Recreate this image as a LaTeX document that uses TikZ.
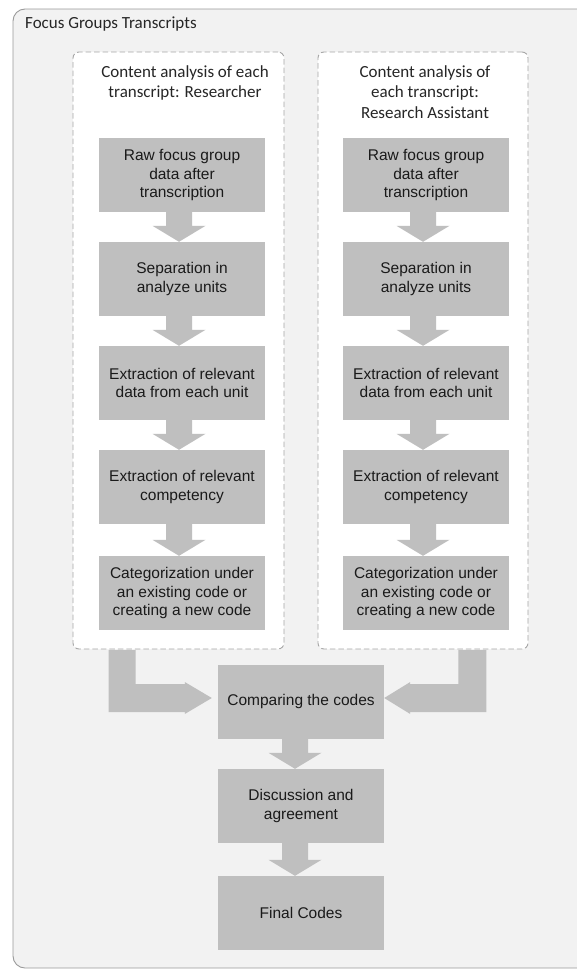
\documentclass[tikz,border=0pt]{standalone}
\usepackage{fontspec}
\setmainfont{Carlito}
\newfontfamily\boxfont{Liberation Sans}
\usetikzlibrary{calc}

\definecolor{panelbg}{HTML}{F2F2F2}
\definecolor{panelline}{HTML}{9A9A9A}
\definecolor{dashline}{HTML}{A6A6A6}
\definecolor{stepfill}{HTML}{BFBFBF}
\definecolor{steptext}{HTML}{1A1A1A}
\definecolor{titletext}{HTML}{262626}

% block arrow pointing down from one box to the next; optional x offset
\newcommand{\flowarrow}[3][0]{%
  \fill[stepfill]
    ($(#2.south)+(#1-13,0)$) --
    ($(#3.north)+(#1-13,-16)$) --
    ($(#3.north)+(#1-26.5,-16)$) --
    ($(#3.north)+(#1,0)$) --
    ($(#3.north)+(#1+26.5,-16)$) --
    ($(#3.north)+(#1+13,-16)$) --
    ($(#2.south)+(#1+13,0)$) -- cycle;}

\begin{document}
\begin{tikzpicture}[x=1pt,y=-1pt,
  panel/.style={draw=panelline, fill=panelbg, line width=0.9pt,
    rounded corners=12pt, minimum width=587pt, minimum height=959pt, inner sep=0pt},
  lane/.style={draw=dashline, dash pattern=on 5.5pt off 3pt, fill=white,
    line width=0.9pt, rounded corners=6pt, minimum width=#1,
    minimum height=597pt, inner sep=0pt},
  lanetitle/.style={align=center, text=titletext, inner sep=0pt,
    font=\fontsize{17}{20.5}\selectfont},
  stepbox/.style={rectangle, fill=stepfill, minimum width=166pt,
    minimum height=74pt, inner sep=0pt, align=center, text=steptext,
    font=\boxfont\fontsize{15.5}{18.8}\selectfont},
]
\useasboundingbox (0,0) rectangle (576,969);

% outer panel
\node[panel] (panel) at (306.5,488.5) {};
\node[anchor=west, text=titletext, inner sep=0pt,
  font=\fontsize{17}{20}\selectfont] (ptitle) at (25,24) {Focus Groups Transcripts};

% two analysis lanes
\node[lane=211pt] (lbox) at (178.5,350.5) {};
\node[lane=210pt] (rbox) at (423,350.5) {};
\node[lanetitle] (ltitle) at (185,83) {Content analysis of each\\transcript: Researcher};
\node[lanetitle] (rtitle) at (425,92) {Content analysis of\\each transcript:\\Research Assistant};

% researcher steps
\node[stepbox] (l1) at (182,175) {Raw focus group\\data after\\transcription};
\node[stepbox] (l2) at (182,279) {Separation in\\analyze units};
\node[stepbox] (l3) at (182,383) {Extraction of relevant\\data from each unit};
\node[stepbox] (l4) at (182,487) {Extraction of relevant\\competency};
\node[stepbox] (l5) at (182,593) {Categorization under\\an existing code or\\creating a new code};

% research assistant steps
\node[stepbox] (r1) at (426,175) {Raw focus group\\data after\\transcription};
\node[stepbox] (r2) at (426,279) {Separation in\\analyze units};
\node[stepbox] (r3) at (426,383) {Extraction of relevant\\data from each unit};
\node[stepbox] (r4) at (426,487) {Extraction of relevant\\competency};
\node[stepbox] (r5) at (426,593) {Categorization under\\an existing code or\\creating a new code};

% shared steps
\node[stepbox] (cmp) at (301,701.5) {Comparing the codes};
\node[stepbox] (disc) at (301,806) {Discussion and\\agreement};
\node[stepbox] (final) at (301,913) {Final Codes};

% arrows inside the lanes
\flowarrow[-3]{l1}{l2}
\flowarrow[-3]{l2}{l3}
\flowarrow[-3]{l3}{l4}
\flowarrow[-3]{l4}{l5}
\flowarrow[-3]{r1}{r2}
\flowarrow[-3]{r2}{r3}
\flowarrow[-3]{r3}{r4}
\flowarrow[-3]{r4}{r5}

% arrows down the shared steps
\flowarrow[-6]{cmp}{disc}
\flowarrow[-6]{disc}{final}

% bent arrows from the lanes into the comparison
\coordinate (lstem) at ($(lbox.south west)+(36,0.6)$);
\coordinate (ltip) at ($(cmp.west)+(-6,-3.5)$);
\fill[stepfill] (lstem) -- ++(27,0) -- ($(lstem |- ltip)+(27,-14)$)
  -- ($(ltip)+(-27,-14)$) -- ($(ltip)+(-27,-16)$) -- (ltip)
  -- ($(ltip)+(-27,16)$) -- ($(ltip)+(-27,14)$)
  -- ($(lstem |- ltip)+(0,14)$) -- cycle;

\coordinate (rstem) at ($(rbox.south east)+(-42,0.6)$);
\coordinate (rtip) at ($(cmp.east)+(0,-3.5)$);
\fill[stepfill] (rstem) -- ++(-28,0) -- ($(rstem |- rtip)+(-28,-14)$)
  -- ($(rtip)+(26,-14)$) -- ($(rtip)+(26,-16)$) -- (rtip)
  -- ($(rtip)+(26,16)$) -- ($(rtip)+(26,14)$)
  -- ($(rstem |- rtip)+(0,14)$) -- cycle;
\end{tikzpicture}
\end{document}
